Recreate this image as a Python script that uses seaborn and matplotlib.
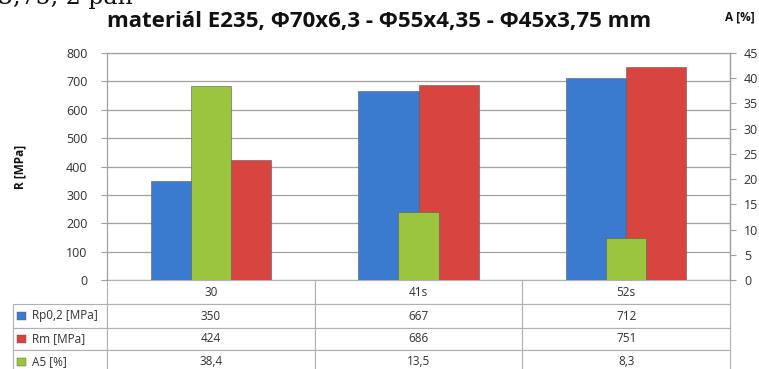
import numpy as np
import pandas as pd
import matplotlib
matplotlib.use('Agg')
import matplotlib.pyplot as plt
from matplotlib.table import Table
from matplotlib.patches import Rectangle
import seaborn as sns

# data
categories = ['30', '41s', '52s']
rp02 = [350, 667, 712]
rm = [424, 686, 751]
a5 = [38.4, 13.5, 8.3]
series_names = ['Rp0,2 [MPa]', 'Rm [MPa]', 'A5 [%]']
title = 'materiál E235, Φ70x6,3 - Φ55x4,35 - Φ45x3,75 mm'

blue = '#3a7bd0'
red = '#d8443f'
green = '#9cc53f'
grid_col = '#a0a0a0'
txt_col = '#303030'

sns.set_theme(style='white')
plt.rcParams['font.family'] = ['Open Sans', 'DejaVu Sans']

W, H = 759, 369
fig = plt.figure(figsize=(W / 100, H / 100), dpi=100)
fig.patch.set_facecolor('white')

# plot area in pixels
px_l, px_r, px_t, px_b = 107, 730, 53, 280
ax = fig.add_axes([px_l / W, (H - px_b) / H, (px_r - px_l) / W, (px_b - px_t) / H])

df = pd.DataFrame({
    'kat': categories * 2,
    'hodnota': rp02 + rm,
    'rada': [series_names[0]] * 3 + [series_names[1]] * 3,
})
sns.barplot(data=df, x='kat', y='hodnota', hue='rada', palette=[blue, red],
            width=0.58, gap=0, saturation=1, legend=False, ax=ax,
            edgecolor='#5a5a5a', linewidth=0.4)
ax.set_ylim(0, 800)
ax.set_yticks(np.arange(0, 801, 100))
ax.yaxis.grid(True, color=grid_col, linewidth=0.9)
ax.set_axisbelow(True)
ax.set_xlim(-0.5, 2.5)
ax.set_xlabel('')
ax.set_ylabel('')
ax.tick_params(axis='x', length=0, labelbottom=False)
ax.tick_params(axis='y', length=4, width=0.8, color=grid_col, labelsize=9,
               labelcolor=txt_col, pad=10, left=True)
for s in ['top', 'left', 'right']:
    ax.spines[s].set_color(grid_col)
    ax.spines[s].set_linewidth(0.9)
ax.spines['bottom'].set_visible(False)

# secondary axis for A5
ax2 = ax.twinx()
sns.barplot(x=categories, y=a5, color=green, width=0.193, saturation=1,
            ax=ax2, edgecolor='#5a5a5a', linewidth=0.4)
ax2.set_ylim(0, 45)
ax2.set_yticks(np.arange(0, 46, 5))
ax2.set_xlim(-0.5, 2.5)
ax2.set_ylabel('')
ax2.tick_params(axis='y', length=4, width=0.8, color=grid_col, labelsize=9,
                labelcolor=txt_col, pad=6, right=True)
ax2.tick_params(axis='x', length=0, labelbottom=False)
for s in ['top', 'left', 'bottom']:
    ax2.spines[s].set_visible(False)
ax2.spines['right'].set_color(grid_col)
ax2.spines['right'].set_linewidth(0.9)

# data table below the plot
tab_left, tab_bottom = 13, 373
row_h = [24, 24, 22, 23]
pw, ph = px_r - px_l, px_b - px_t
bbox = [(tab_left - px_l) / pw, (px_b - tab_bottom) / ph,
        (px_r - tab_left) / pw, (tab_bottom - px_b) / ph]
tab = Table(ax, bbox=bbox)
col_w = [px_l - tab_left] + [(px_r - px_l) / 3] * 3
rows = [[''] + categories,
        [series_names[0]] + [str(v) for v in rp02],
        [series_names[1]] + [str(v) for v in rm],
        [series_names[2]] + [str(v).replace('.', ',') for v in a5]]
for i, row in enumerate(rows):
    for j, t in enumerate(row):
        c = tab.add_cell(i, j, width=col_w[j], height=row_h[i], text=t,
                         loc='left' if j == 0 else 'center',
                         edgecolor='#b0b0b0', facecolor='white')
        c.set_linewidth(0.8)
        c.get_text().set_fontsize(8.5)
        c.get_text().set_color(txt_col)
        if j == 0:
            c.PAD = 0.2
        if i == 0 and j == 0:
            c.visible_edges = ''
tab.auto_set_font_size(False)
tab.set_clip_on(False)
ax.add_table(tab)

# legend keys in the table row labels
y_top = px_b + row_h[0]
for k, col in enumerate([blue, red, green]):
    yc = y_top + sum(row_h[1:1 + k]) + row_h[1 + k] / 2
    fig.add_artist(Rectangle(((17) / W, (H - yc - 4) / H), 9 / W, 8 / H,
                             facecolor=col, edgecolor='#555555', linewidth=0.3,
                             transform=fig.transFigure))

# texts
fig.text(379 / W, (H - 22) / H, title, ha='center', va='center',
         fontsize=16, fontweight='bold', color='#111111')
fig.text(20 / W, (H - 167) / H, 'R [MPa]', rotation=90, ha='center', va='center',
         fontsize=8.5, fontweight='bold', color='#111111')
fig.text(740 / W, (H - 17) / H, 'A [%]', ha='center', va='center',
         fontsize=8.5, fontweight='bold', color='#111111')
fig.text(-2 / W, (H - 4) / H, '3,75, 2 pàh', ha='left', va='baseline',
         fontsize=17, family=['DejaVu Serif'], color='#111111')

fig.savefig('out.png', dpi=100)
